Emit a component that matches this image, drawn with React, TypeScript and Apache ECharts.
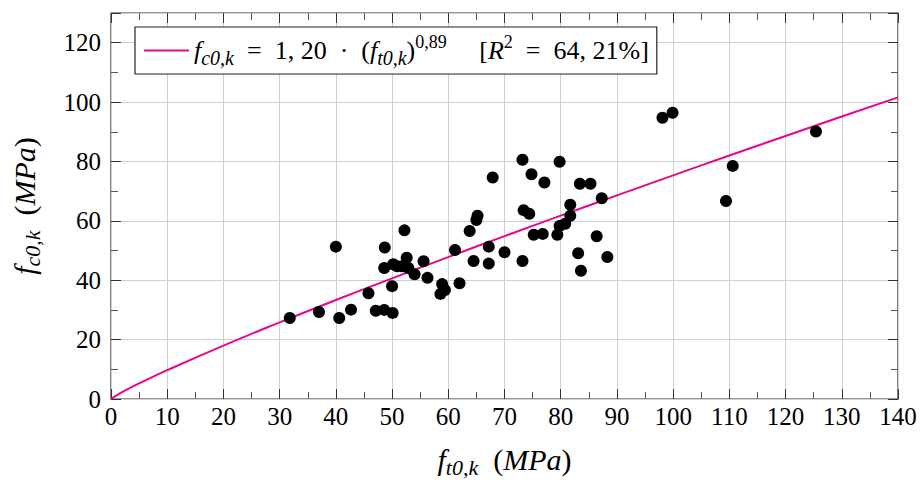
import React, { useEffect, useRef } from "react";
import * as echarts from "echarts";

// Measured points: f_t0,k (x) and f_c0,k (y), MPa
const ft0k: number[] = [
  31.8, 37.0, 40.0, 40.6, 42.7, 45.8, 47.1, 48.6, 50.1, 48.7,
  48.6, 50.0, 50.2, 50.9, 51.8, 52.6, 52.9, 52.2, 54.0, 55.6,
  56.3, 58.9, 58.6, 59.4, 61.2, 62.0, 63.8, 64.5, 65.0, 65.2,
  67.2, 67.2, 67.9, 70.0, 73.2, 73.4, 74.4, 73.2, 74.8, 75.2,
  76.8, 77.1, 79.4, 79.8, 79.8, 80.8, 81.7, 81.7, 83.1, 83.4,
  83.6, 85.3, 86.4, 87.3, 88.3, 98.1, 99.9, 109.4, 110.6, 125.4,
];
const fc0k: number[] = [
  27.3, 29.3, 51.3, 27.3, 30.1, 35.6, 29.7, 30.0, 29.0, 51.0,
  44.1, 38.0, 45.4, 44.7, 44.7, 47.6, 44.1, 56.8, 42.0, 46.4,
  40.8, 38.7, 35.4, 36.7, 50.2, 39.0, 56.6, 46.5, 60.3, 61.7,
  51.3, 45.6, 74.6, 49.4, 80.6, 63.6, 62.4, 46.5, 75.7, 55.3,
  55.6, 72.9, 55.3, 58.3, 79.9, 59.0, 61.7, 65.4, 49.1, 72.5,
  43.2, 72.5, 54.8, 67.6, 47.8, 94.7, 96.4, 66.7, 78.5, 90.1,
];

// Fitted curve
const fitX: number[] = [0, 1, 2.5, 5, 10, 20, 30, 40, 50, 60, 70, 80, 90, 100, 110, 120, 130, 140];
const fitY: number[] = [0, 1.25, 2.83, 5.24, 9.7, 17.98, 25.8, 33.33, 40.64, 47.8, 54.84, 61.75, 68.58, 75.32, 81.99, 88.58, 95.14, 101.6];

const xTicks: number[] = [0, 140, 10];
const yTicks: number[] = [0, 130, 20];

const FONT = "'Liberation Serif', 'Times New Roman', serif";
const PINK = "#e8078a";

const mkRich = (main: number, sub: number, sup: number, lh: number) => ({
  i: { fontFamily: FONT, fontStyle: "italic", fontSize: main, lineHeight: lh, color: "#000", verticalAlign: "middle" },
  r: { fontFamily: FONT, fontSize: main, lineHeight: lh, color: "#000", verticalAlign: "middle" },
  sub: { fontFamily: FONT, fontStyle: "italic", fontSize: sub, lineHeight: sub, color: "#000", verticalAlign: "bottom" },
  sup: { fontFamily: FONT, fontSize: sup, lineHeight: sup, color: "#000", verticalAlign: "top" },
});

export default function App() {
  const ref = useRef<HTMLDivElement>(null);
  useEffect(() => {
    document.body.style.margin = "0";
    if (!ref.current) return;
    const chart = echarts.init(ref.current, null, { renderer: "svg" });
    const scatterData = ft0k.map((x, i) => [x, fc0k[i]]);
    const fitData = fitX.map((x, i) => [x, fitY[i]]);
    const tickCommon = {
      axisTick: { show: true, inside: true, length: 10, lineStyle: { color: "#333", width: 1 } },
      minorTick: { show: true, splitNumber: 2, length: 7, lineStyle: { color: "#555", width: 1 } },
    };
    const legendRich = mkRich(26, 20, 18, 35);
    const nameRich = mkRich(30, 22, 20, 38);
    chart.setOption({
      animation: false,
      backgroundColor: "#fff",
      grid: {
        left: 111, top: 13, width: 787, height: 394,
        show: true, borderColor: "#333", borderWidth: 1.2, backgroundColor: "transparent",
      },
      legend: {
        data: [{ name: "fit", icon: "rect" }],
        left: 135, top: 27,
        itemWidth: 45, itemHeight: 2,
        padding: [6, 8, 6, 9],
        borderColor: "#222", borderWidth: 1.2,
        backgroundColor: "#fff",
        formatter: () =>
          "{i|f}{sub|c0,k}{r|  =  1, 20  ·  (}{i|f}{sub|t0,k}{r|)}{sup|0,89}{r|     [}{i|R}{sup|2}{r|  =  64, 21%]}",
        textStyle: { rich: legendRich },
      },
      xAxis: [
        {
          type: "value", min: xTicks[0], max: xTicks[1], interval: xTicks[2],
          position: "bottom",
          axisLine: { show: false, onZero: false },
          ...tickCommon,
          axisLabel: { color: "#000", fontFamily: FONT, fontSize: 25, margin: 5 },
          splitLine: { show: true, lineStyle: { color: "#cfcfcf", width: 1 } },
          name: "{i|f}{sub|t0,k}{r|  (}{i|MPa}{r|)}",
          nameLocation: "middle",
          nameGap: 41,
          nameTextStyle: { rich: nameRich },
        },
        {
          type: "value", min: xTicks[0], max: xTicks[1], interval: xTicks[2],
          position: "top",
          axisLine: { show: false, onZero: false },
          ...tickCommon,
          axisLabel: { show: false },
          splitLine: { show: false },
        },
      ],
      yAxis: [
        {
          type: "value", min: yTicks[0], max: yTicks[1], interval: yTicks[2],
          position: "left",
          axisLine: { show: false, onZero: false },
          ...tickCommon,
          axisLabel: { color: "#000", fontFamily: FONT, fontSize: 25, margin: 10, showMaxLabel: false },
          splitLine: { show: true, lineStyle: { color: "#cfcfcf", width: 1 } },
          name: "{i|f}{sub|c0,k}{r|  (}{i|MPa}{r|)}",
          nameLocation: "middle",
          nameRotate: 90,
          nameGap: 68,
          nameTextStyle: { rich: nameRich },
        },
        {
          type: "value", min: yTicks[0], max: yTicks[1], interval: yTicks[2],
          position: "right",
          axisLine: { show: false, onZero: false },
          ...tickCommon,
          axisLabel: { show: false },
          splitLine: { show: false },
        },
      ],
      series: [
        {
          name: "fit",
          type: "line",
          data: fitData,
          smooth: true,
          showSymbol: false,
          symbol: "none",
          color: PINK,
          lineStyle: { color: PINK, width: 2 },
          z: 3,
        },
        {
          name: "data",
          type: "scatter",
          data: scatterData,
          symbol: "circle",
          symbolSize: 12,
          itemStyle: { color: "#000", opacity: 1 },
          z: 4,
        },
      ],
    });
    return () => chart.dispose();
  }, []);
  return <div ref={ref} style={{ width: 922, height: 483 }} />;
}
